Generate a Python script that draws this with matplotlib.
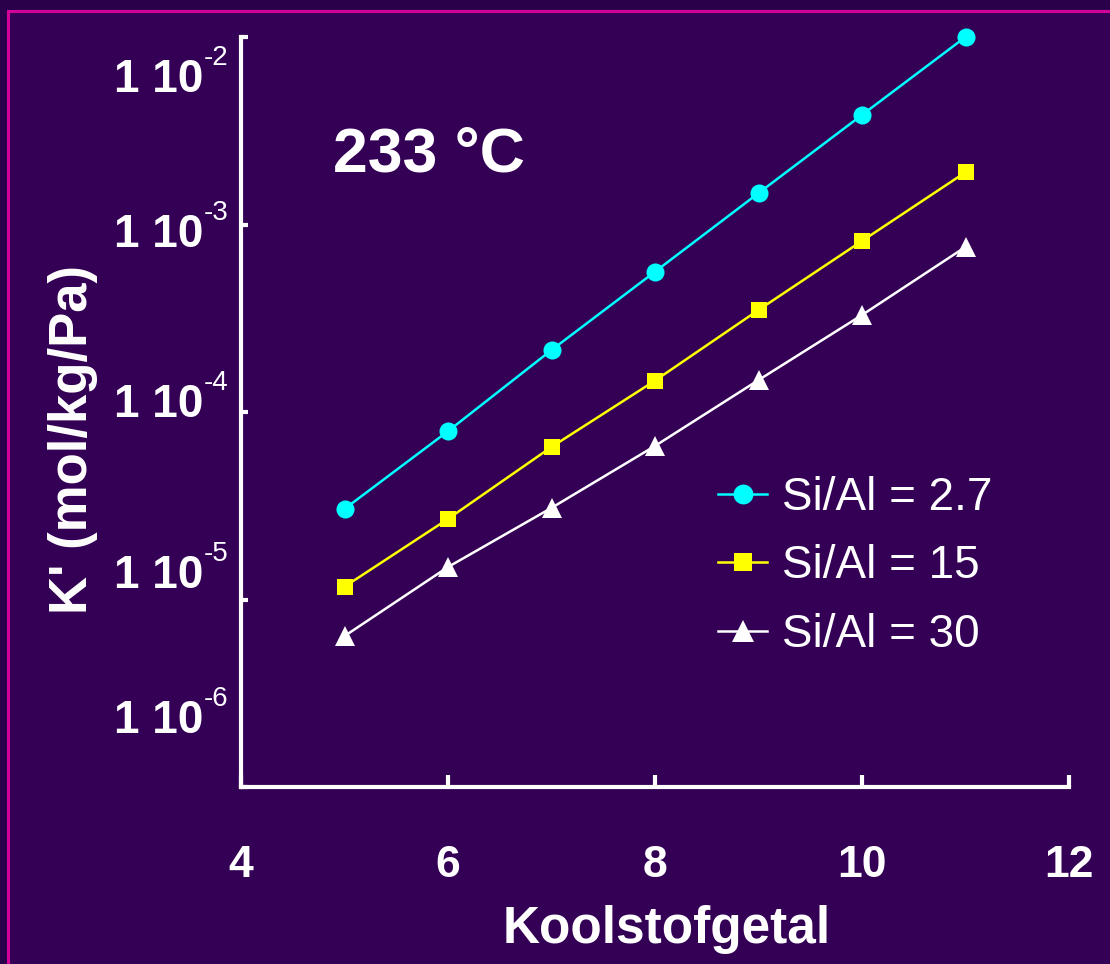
import matplotlib
matplotlib.use("Agg")
import matplotlib.pyplot as plt
from matplotlib.patches import Rectangle
from matplotlib.ticker import NullLocator

plt.rcParams['font.family'] = ['Liberation Sans', 'DejaVu Sans']

# Carbon number and adsorption constant K' (mol/kg/Pa) at 233 °C
carbon_number = [5, 6, 7, 8, 9, 10, 11]
k_si_al_2_7 = [3.04e-5, 7.9e-5, 2.14e-4, 5.6e-4, 1.47e-3, 3.84e-3, 1.0e-2]
k_si_al_15 = [1.17e-5, 2.69e-5, 6.51e-5, 1.47e-4, 3.50e-4, 8.17e-4, 1.90e-3]
k_si_al_30 = [6.38e-6, 1.49e-5, 3.08e-5, 6.59e-5, 1.48e-4, 3.29e-4, 7.59e-4]
series_labels = ['Si/Al = 2.7', 'Si/Al = 15', 'Si/Al = 30']

x_ticks = [4, 6, 8, 10, 12]
y_ticks = [1e-2, 1e-3, 1e-4, 1e-5, 1e-6]
y_tick_mantissa = '1 10'
y_tick_exponents = ['-2', '-3', '-4', '-5', '-6']

W, H = 1110, 964
BG_OUTER = '#2B004A'
BG = '#330055'
BORDER = '#D4009A'

fig = plt.figure(figsize=(W / 100, H / 100), dpi=100, facecolor=BG_OUTER)

def fx(px):
    return px / W

def fy(py):
    return 1 - py / H

# slide panel with magenta border
fig.patches.append(Rectangle((fx(8), fy(1000)), fx(1200), fy(11) - fy(1000),
                             transform=fig.transFigure, facecolor=BG,
                             edgecolor=BORDER, linewidth=2.2, zorder=-5))

ax = fig.add_axes([fx(241), fy(787), fx(1069) - fx(241), fy(37) - fy(787)])
ax.set_zorder(2)
ax.set_facecolor('none')
ax.set_yscale('log')
ax.set_xlim(4, 12)
ax.set_ylim(1e-6, 1e-2)

ax.plot(carbon_number, k_si_al_2_7, color='#00FFFF', lw=1.8, marker='o',
        ms=13, mew=0, label=series_labels[0], clip_on=False, zorder=3)
ax.plot(carbon_number, k_si_al_15, color='#FFFF00', lw=1.8, marker='s',
        ms=12, mew=0, label=series_labels[1], clip_on=False, zorder=3)
ax.plot(carbon_number, k_si_al_30, color='white', lw=1.8, marker='^',
        ms=14.5, mew=0, label=series_labels[2], clip_on=False, zorder=3)

for side in ('top', 'right'):
    ax.spines[side].set_visible(False)
for side in ('left', 'bottom'):
    ax.spines[side].set_color('white')
    ax.spines[side].set_linewidth(3)

ax.set_xticks(x_ticks)
ax.set_xticklabels([str(t) for t in x_ticks])
ax.tick_params(axis='x', direction='in', length=9, width=3, color='white',
               labelcolor='white', labelsize=32, pad=42)
for lbl in ax.get_xticklabels():
    lbl.set_fontweight('bold')

ax.set_yticks(y_ticks)
ax.set_yticklabels([])
ax.yaxis.set_minor_locator(NullLocator())
ax.tick_params(axis='y', direction='in', length=5, width=3, color='white')

# y tick labels: "1 10" with a raised exponent
label_baselines = [92, 247, 417, 588, 733]
for base, exp in zip(label_baselines, y_tick_exponents):
    fig.text(fx(203), fy(base), y_tick_mantissa, color='white', fontsize=33,
             fontweight='bold', ha='right', va='baseline')
    fig.text(fx(203.5), fy(base - 27), exp, color='white', fontsize=20,
             ha='left', va='baseline')

fig.text(fx(73), fy(440), "K' (mol/kg/Pa)", color='white', fontsize=38,
         fontweight='bold', rotation=90, ha='center', va='center')
fig.text(fx(667), fy(930), 'Koolstofgetal', color='white', fontsize=37,
         fontweight='bold', ha='center', va='center')
fig.text(fx(333), fy(172), '233 °C', color='white', fontsize=45,
         fontweight='bold', ha='left', va='baseline')

leg = ax.legend(loc='upper left', bbox_to_anchor=(fx(718), fy(476)),
                bbox_transform=fig.transFigure, frameon=False, fontsize=33,
                handlelength=1.07, handletextpad=0.33, labelspacing=0.53,
                borderpad=0, borderaxespad=0, markerscale=1.1)
for t in leg.get_texts():
    t.set_color('white')

fig.savefig('out.png', dpi=100, facecolor=fig.get_facecolor())
